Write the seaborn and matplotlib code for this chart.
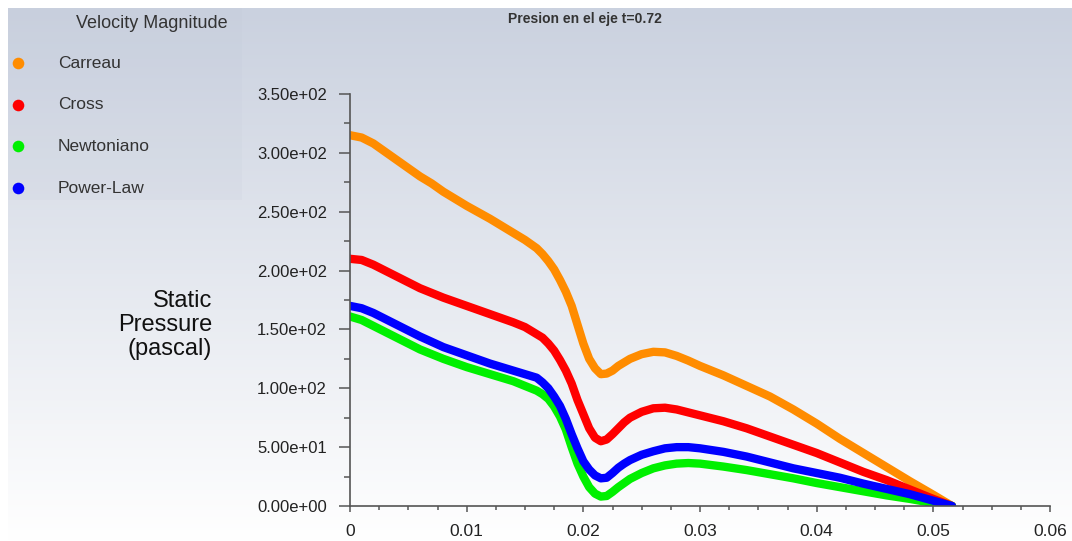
import numpy as np
import pandas as pd
import matplotlib
matplotlib.use("Agg")
import matplotlib.pyplot as plt
from matplotlib.ticker import MultipleLocator, FixedLocator
import seaborn as sns

# Axial position (m)
position = [0.000, 0.001, 0.002, 0.003, 0.004, 0.005, 0.006, 0.007, 0.008, 0.009,
            0.010, 0.011, 0.012, 0.013, 0.014, 0.015, 0.016,
            0.0165, 0.017, 0.0175, 0.018, 0.0185, 0.019, 0.0195, 0.020, 0.0205,
            0.021, 0.0215, 0.022, 0.0225, 0.023, 0.0235, 0.024,
            0.025, 0.026, 0.027, 0.028, 0.029, 0.030,
            0.032, 0.034, 0.036, 0.038, 0.040, 0.042, 0.044, 0.046, 0.048,
            0.050, 0.0516]

# Static pressure (Pa) along the axis for each viscosity model
carreau = [315, 313, 308, 301, 294, 287, 280, 274, 267, 261,
           255, 249.5, 244, 238, 232, 226, 219,
           214, 208, 201, 192, 182, 170, 154, 138, 125,
           117, 112, 112.5, 115, 119, 122, 125,
           129, 131, 130.5, 127.5, 123.5, 119,
           111, 102, 93, 82, 70, 57, 45, 33, 21,
           9.5, 0]
cross = [210, 209, 205, 200, 195, 190, 185, 181, 177, 173.5,
         170, 166.5, 163, 159.5, 156, 152, 146,
         143, 138, 132, 124, 115, 104, 90, 78, 66,
         58, 55, 56.5, 61, 66, 71, 75,
         80, 83, 83.5, 82, 79.5, 77,
         72, 66, 59, 52, 45, 37, 29, 22, 14,
         6, 0]
newtoniano = [161, 158, 153, 148, 143, 138, 133, 129, 125, 121.5,
              118, 115, 112, 109, 106, 102, 98,
              95, 91, 84.5, 76, 65, 50, 36, 25, 16,
              10.5, 8, 8.5, 12, 16, 19.5, 23,
              28, 32, 34.5, 36, 36.5, 36,
              33.5, 30.5, 27, 23.5, 19.5, 16, 12.5, 9, 6,
              2.5, 0]
power_law = [170, 168, 164, 159, 154, 149, 144, 139.5, 135, 131.5,
             128, 124.5, 121, 118, 115, 112, 109,
             105, 100, 93, 85, 74, 61, 49, 38, 31,
             26, 23.5, 24, 28, 32.5, 36, 39,
             43.5, 46.5, 49, 50, 50, 49,
             46, 42, 37, 32, 28, 24, 19, 14.5, 10,
             4.5, 0]

models = ["Carreau", "Cross", "Newtoniano", "Power-Law"]
colors = ["#ff8c00", "#ff0000", "#00f000", "#0000ff"]
yticks = [0, 50, 100, 150, 200, 250, 300, 350]
ytick_labels = ["0.00e+00", "5.00e+01", "1.00e+02", "1.50e+02",
                "2.00e+02", "2.50e+02", "3.00e+02", "3.50e+02"]
xticks = [0, 0.01, 0.02, 0.03, 0.04, 0.05, 0.06]
xtick_labels = ["0", "0.01", "0.02", "0.03", "0.04", "0.05", "0.06"]

df = pd.concat([
    pd.DataFrame({"x": position, "p": vals, "model": name})
    for name, vals in zip(models, [carreau, cross, newtoniano, power_law])
])

sns.set_theme(style="white")
plt.rcParams["font.family"] = ["Liberation Sans", "DejaVu Sans"]

W, H = 1072, 541
fig = plt.figure(figsize=(W / 100, H / 100), dpi=100)

# Background: vertical gradient, with a thin white margin at top and left
bg = fig.add_axes([0, 0, 1, 1])
bg.set_xlim(0, W)
bg.set_ylim(H, 0)
bg.axis("off")
top = np.array([0xca, 0xd1, 0xdf]) / 255
bot = np.array([1.0, 1.0, 1.0])
t = np.linspace(0, 1, 256)[:, None]
grad = (top[None, :] * (1 - t) + bot[None, :] * t)[:, None, :]
bg.imshow(grad, extent=[8, W, H, 8], aspect="auto", zorder=0)
bg.add_patch(plt.Rectangle((8, 8), 234, 192, facecolor="#b9c1d2", alpha=0.10,
                           edgecolor="none", zorder=1))

# Legend panel
bg.text(152, 23, "Velocity Magnitude", fontsize=13, color="#333333",
        ha="center", va="center", zorder=3)
for i, (name, col) in enumerate(zip(models, colors)):
    yy = 63 + i * 41.7
    bg.scatter([18], [yy], s=70, color=col, zorder=3, linewidths=0)
    bg.text(58, yy, name, fontsize=12.5, color="#333333", va="center", zorder=3)

# Title
fig.text(585 / W, 1 - 19 / H, "Presion en el eje t=0.72", fontsize=10,
         fontweight="bold", color="#333333", ha="center", va="center")

# Main plot
ax = fig.add_axes([350 / W, 1 - 506 / H, 700 / W, 412 / H])
ax.patch.set_alpha(0)
sns.lineplot(data=df, x="x", y="p", hue="model", palette=colors,
             hue_order=models, linewidth=6, legend=False, ax=ax,
             solid_capstyle="round", solid_joinstyle="round")

ax.set_xlim(0, 0.06)
ax.set_ylim(0, 350)
ax.yaxis.set_major_locator(FixedLocator(yticks))
ax.set_yticklabels(ytick_labels)
ax.yaxis.set_minor_locator(MultipleLocator(25))
ax.xaxis.set_major_locator(FixedLocator(xticks))
ax.set_xticklabels(xtick_labels)
ax.xaxis.set_minor_locator(MultipleLocator(0.0025))

for side in ["top", "right"]:
    ax.spines[side].set_visible(False)
for side in ["left", "bottom"]:
    ax.spines[side].set_color("#555555")
    ax.spines[side].set_linewidth(1.2)

ax.tick_params(axis="y", which="major", direction="out", length=8, width=1.1,
               color="#555555", pad=8.5, labelsize=12, labelcolor="#222222",
               left=True)
ax.tick_params(axis="y", which="minor", direction="out", length=4, width=1.1,
               color="#555555", left=True)
ax.tick_params(axis="x", which="major", direction="out", length=4, width=1.1,
               color="#555555", pad=9, labelsize=12.5, labelcolor="#222222",
               bottom=True)
ax.tick_params(axis="x", which="minor", direction="out", length=3, width=1.1,
               color="#555555", bottom=True)

ax.set_xlabel("")
ax.set_ylabel("")
fig.text(212 / W, 1 - 325 / H, "Static\nPressure\n(pascal)", fontsize=17,
         color="#111111", ha="right", va="center", linespacing=1.1)

fig.savefig("out.png", dpi=100)
